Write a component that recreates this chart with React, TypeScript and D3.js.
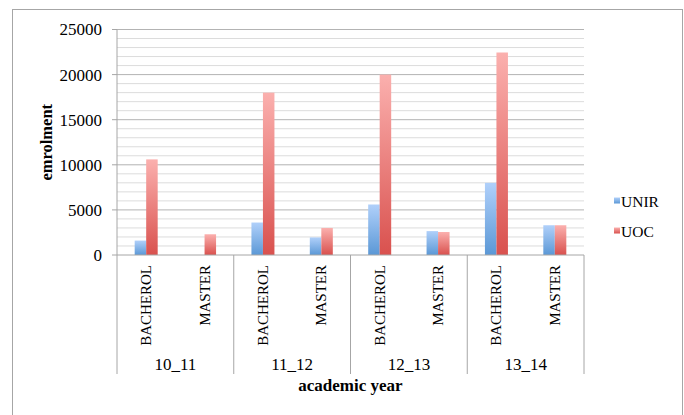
import React from "react";
import * as d3 from "d3";

const years = ["10_11", "11_12", "12_13", "13_14"];
const levels = ["BACHEROL", "MASTER"];
const unir = [1600, 0, 3600, 1950, 5600, 2650, 8000, 3300];
const uoc = [10600, 2300, 18000, 3000, 20000, 2550, 22450, 3300];
const series = ["UNIR", "UOC"];
const yTicks = [0, 5000, 10000, 15000, 20000, 25000];

export default function App() {
  const W = 684, H = 415;
  const left = 117, right = 584, top = 29.5, bottom = 255;
  const font = "'Liberation Serif', 'Times New Roman', serif";

  const slots = years.flatMap((y) => levels.map((l) => `${y}|${l}`));
  const x = d3.scaleBand<string>().domain(slots).range([left, right]).paddingInner(0).paddingOuter(0);
  const xg = d3.scaleBand<string>().domain(years).range([left, right]);
  const y = d3.scaleLinear().domain([0, 25000]).range([bottom, top]);
  const inner = d3.scaleBand<string>().domain(series).range([0, 23]);
  const minor = d3.range(1000, 25001, 1000).filter((v) => v % 5000 !== 0);
  const vals = [unir, uoc];

  return (
    <svg width={W} height={H} style={{ position: "absolute", left: 0, top: 0 }}>
      <defs>
        <linearGradient id="gBlue" x1="0" y1="0" x2="0" y2="1">
          <stop offset="0" stopColor="#b0d0fa" />
          <stop offset="1" stopColor="#5b98d6" />
        </linearGradient>
        <linearGradient id="gRed" x1="0" y1="0" x2="0" y2="1">
          <stop offset="0" stopColor="#fbb0ae" />
          <stop offset="1" stopColor="#d9514e" />
        </linearGradient>
      </defs>
      <rect x={0} y={0} width={W} height={H} fill="#fff" />
      <rect x={12.5} y={9.5} width={670} height={420} fill="none" stroke="#a6a6a6" strokeWidth={1} />
      {minor.map((v) => (
        <line key={"m" + v} x1={left} x2={right} y1={y(v)} y2={y(v)} stroke="#dcdcdc" strokeWidth={1} />
      ))}
      {yTicks.map((v) => (
        <g key={"t" + v}>
          {v > 0 && <line x1={left} x2={right} y1={y(v)} y2={y(v)} stroke="#b3b3b3" strokeWidth={1} />}
          <line x1={112} x2={left} y1={y(v)} y2={y(v)} stroke="#a6a6a6" />
          <text x={102} y={y(v)} dy="0.35em" textAnchor="end" fontFamily={font} fontSize={17} fill="#000">
            {v}
          </text>
        </g>
      ))}
      <line x1={left} x2={left} y1={top} y2={bottom} stroke="#a6a6a6" />
      <text
        transform={`translate(52,${(top + bottom) / 2}) rotate(-90)`}
        textAnchor="middle"
        fontFamily={font}
        fontWeight="bold"
        fontSize={16.5}
      >
        emrolment
      </text>
      {slots.map((s, i) => {
        const cx = (x(s) as number) + x.bandwidth() / 2;
        return (
          <g key={s}>
            {series.map((ser, k) => {
              const v = vals[k][i];
              if (!v) return null;
              return (
                <rect
                  key={ser}
                  x={cx - 11.5 + (inner(ser) as number)}
                  y={y(v)}
                  width={inner.bandwidth()}
                  height={bottom - y(v)}
                  fill={k === 0 ? "url(#gBlue)" : "url(#gRed)"}
                />
              );
            })}
            <text
              transform={`translate(${cx + 5},265) rotate(-90)`}
              textAnchor="end"
              fontFamily={font}
              fontSize={15}
            >
              {s.split("|")[1]}
            </text>
          </g>
        );
      })}
      <line x1={left} x2={right} y1={bottom} y2={bottom} stroke="#a6a6a6" />
      {[...years.map((g) => xg(g) as number), right].map((px, i) => (
        <line key={"s" + i} x1={px} x2={px} y1={bottom} y2={374} stroke="#a6a6a6" />
      ))}
      {years.map((g) => (
        <text
          key={g}
          x={(xg(g) as number) + xg.bandwidth() / 2}
          y={370}
          textAnchor="middle"
          fontFamily={font}
          fontSize={17}
        >
          {g}
        </text>
      ))}
      <text x={(left + right) / 2} y={391} textAnchor="middle" fontFamily={font} fontWeight="bold" fontSize={17}>
        academic year
      </text>
      {series.map((s, k) => (
        <g key={s}>
          <rect x={614} y={197.5 + k * 30} width={6} height={6} fill={k === 0 ? "url(#gBlue)" : "url(#gRed)"} />
          <text x={621} y={206.5 + k * 30} fontFamily={font} fontSize={15.5}>
            {s}
          </text>
        </g>
      ))}
    </svg>
  );
}
